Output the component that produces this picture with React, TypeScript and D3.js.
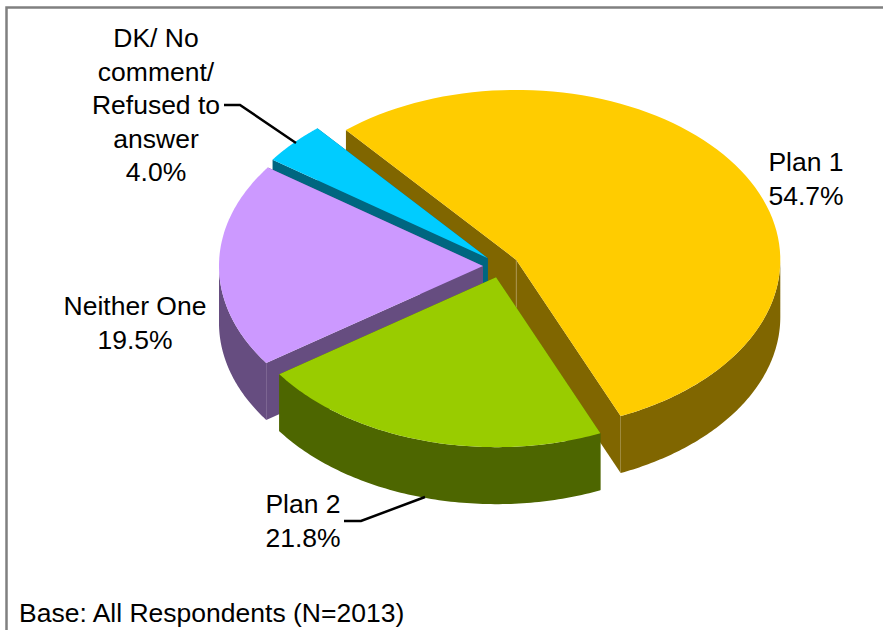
import React from "react";
import * as d3 from "d3";

const categories = ["Plan 1", "Plan 2", "Neither One", "DK/ No comment/ Refused to answer"];
const shares = [54.7, 21.8, 19.5, 4.0];
const topColors = ["#ffcc00", "#99cc00", "#cc99ff", "#00ccff"];
const sideColors = ["#806600", "#4d6600", "#664d80", "#006680"];
const baseNote = "Base: All Respondents (N=2013)";

const W = 883, H = 630;
const CX = 501, CY = 266, RX = 264, RY = 170, DEPTH = 57, EXPLODE = 18;
const START = -40.2 * Math.PI / 180;

const pie = d3.pie<number>().sort(null).startAngle(START).endAngle(START + 2 * Math.PI);
const slices = pie(shares);
const px = (a: number) => Math.sin(a);
const py = (a: number) => -Math.cos(a);

function sliceGeom(i: number) {
  const s = slices[i];
  const mid = (s.startAngle + s.endAngle) / 2;
  const cx = CX + EXPLODE * px(mid);
  const cy = CY + EXPLODE * (RY / RX) * py(mid);
  const pt = (a: number, dz = 0): [number, number] => [cx + RX * px(a), cy + RY * py(a) + dz];
  const arcPath = (a0: number, a1: number, dz = 0) => {
    const n = 90;
    return d3.range(n + 1).map((k) => pt(a0 + (a1 - a0) * k / n, dz));
  };
  return { s, cx, cy, pt, arcPath };
}
const line = (pts: [number, number][]) => d3.line()(pts)! + "Z";

function topPath(i: number) {
  const g = sliceGeom(i);
  return line([[g.cx, g.cy], ...g.arcPath(g.s.startAngle, g.s.endAngle)]);
}
function facePath(i: number, a: number) {
  const g = sliceGeom(i);
  return line([[g.cx, g.cy], g.pt(a), g.pt(a, DEPTH), [g.cx, g.cy + DEPTH]]);
}
function wallPath(i: number) {
  const g = sliceGeom(i);
  // only the part of the rim facing the viewer (90deg..270deg)
  const lo = Math.max(g.s.startAngle, Math.PI / 2);
  const hi = Math.min(g.s.endAngle, 1.5 * Math.PI);
  if (hi <= lo) return "";
  const top = g.arcPath(lo, hi);
  const bottom = g.arcPath(lo, hi, DEPTH).reverse();
  return line([...top, ...bottom]);
}
function seamPath(i: number) {
  const g = sliceGeom(i);
  return `M${g.cx},${g.cy}V${g.cy + DEPTH}`;
}

const Slice3D = ({ i, seam = false }: { i: number; seam?: boolean }) => {
  const s = slices[i];
  return (
    <g>
      <path d={facePath(i, s.startAngle)} fill={sideColors[i]} />
      <path d={facePath(i, s.endAngle)} fill={sideColors[i]} />
      <path d={wallPath(i)} fill={sideColors[i]} />
      {seam && <path d={seamPath(i)} fill="none" stroke="#a8924a" strokeWidth={1} />}
      <path d={topPath(i)} fill={topColors[i]} />
    </g>
  );
};

const textStyle: React.CSSProperties = { fontFamily: "Liberation Sans, Arial, sans-serif", fontSize: 26.5, fill: "#000" };

const Label = ({ x, y, lines }: { x: number; y: number; lines: string[] }) => (
  <text textAnchor="middle" style={textStyle}>
    {lines.map((l, k) => (
      <tspan key={k} x={x} y={y + k * 33.5}>{l}</tspan>
    ))}
  </text>
);

export default function App() {
  const pct = shares.map((v) => v.toFixed(1) + "%");
  return (
    <svg width={W} height={H} style={{ position: "fixed", left: 0, top: 0, background: "#fff" }}>
      <path d="M6.5 630V7.5H883" fill="none" stroke="#808080" strokeWidth={2.5} />
      <Slice3D i={0} seam />
      <Slice3D i={3} />
      <Slice3D i={2} />
      <Slice3D i={1} />
      <path d="M224 105H240L296 143" fill="none" stroke="#000" strokeWidth={2.5} />
      <path d="M344 521H361L425 497" fill="none" stroke="#000" strokeWidth={2.5} />
      <Label x={156} y={47} lines={["DK/ No", "comment/", "Refused to", "answer", pct[3]]} />
      <Label x={806} y={171} lines={[categories[0], pct[0]]} />
      <Label x={135} y={315} lines={[categories[2], pct[2]]} />
      <Label x={303} y={513} lines={[categories[1], pct[1]]} />
      <text x={19} y={622} style={textStyle}>{baseNote}</text>
    </svg>
  );
}
